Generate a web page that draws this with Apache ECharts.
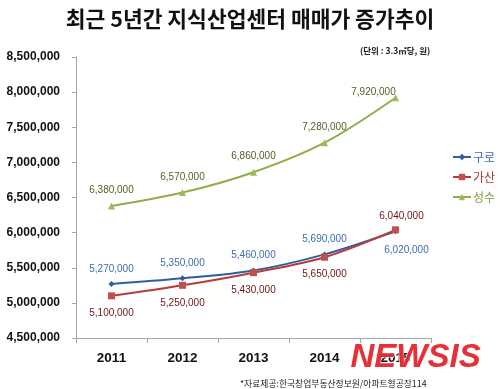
<!DOCTYPE html>
<html><head><meta charset="utf-8">
<script src="https://cdn.jsdelivr.net/npm/echarts@6/dist/echarts.min.js"></script>
<style>html,body{margin:0;padding:0;background:#fff}#c{width:500px;height:389px}</style>
</head><body><div id="c"></div>
<script>
const years = ['2011','2012','2013','2014','2015'];
const guro = [5270000, 5350000, 5460000, 5690000, 6020000];
const gasan = [5100000, 5250000, 5430000, 5650000, 6040000];
const seongsu = [6380000, 6570000, 6860000, 7280000, 7920000];
const seriesNames = ['구로', '가산', '성수'];
const yMin = 4500000, yMax = 8500000, yStep = 500000;

const fmt = v => v.toLocaleString('en-US');
const F = '"Liberation Sans", Arial, sans-serif';
const K = '"Noto Sans CJK KR", sans-serif';

function mkData(vals, specials) {
  return vals.map((v, i) => specials[i] ? { value: v, label: specials[i] } : v);
}

const chart = echarts.init(document.getElementById('c'));
chart.setOption({
  animation: false,
  title: [{
    text: '최근 5년간 지식산업센터 매매가 증가추이',
    left: 'center', top: 3,
    textStyle: { fontFamily: K, fontSize: 21.5, fontWeight: 'bold', color: '#111' }
  }, {
    text: '(단위 : 3.3㎡당, 원)',
    left: 355, top: 42,
    textStyle: { fontFamily: K, fontSize: 8.5, fontWeight: 'bold', color: '#222' }
  }, {
    text: '*자료제공:한국창업부동산정보원/아파트형공장114',
    left: 235, top: 374,
    textStyle: { fontFamily: K, fontSize: 8.8, fontWeight: 'normal', color: '#222' }
  }],
  legend: {
    orient: 'vertical', left: 447, top: 146, itemGap: 8,
    itemWidth: 18, itemHeight: 8,
    textStyle: { fontFamily: K, fontSize: 12, padding: [0,0,0,-3] },
    data: [
      { name: seriesNames[0], textStyle: { color: '#3a6db0' } },
      { name: seriesNames[1], textStyle: { color: '#a23a3a' } },
      { name: seriesNames[2], textStyle: { color: '#7f9a48' } }
    ]
  },
  grid: { left: 76, right: 69, top: 57, bottom: 51 },
  xAxis: {
    type: 'category', data: years, boundaryGap: true,
    axisLine: { lineStyle: { color: '#a6a6a6' } },
    axisTick: { show: true, length: 5, lineStyle: { color: '#a6a6a6' } },
    axisLabel: { fontFamily: F, fontSize: 13.5, fontWeight: 'bold', color: '#111', margin: 13 }
  },
  yAxis: {
    type: 'value', min: yMin, max: yMax, interval: yStep,
    axisLine: { show: true, lineStyle: { color: '#a6a6a6' } },
    axisTick: { show: true, length: 4, lineStyle: { color: '#a6a6a6' } },
    splitLine: { show: false },
    axisLabel: { fontFamily: F, fontSize: 12, fontWeight: 'bold', color: '#111', margin: 16,
      formatter: v => fmt(v) }
  },
  series: [{
    name: seriesNames[0], type: 'line', smooth: 0.35, data: mkData(guro, {4: { position: 'bottom', offset: [11, 6] }}),
    symbol: 'diamond', symbolSize: 6,
    lineStyle: { color: '#2f5f9e', width: 2 }, itemStyle: { color: '#2f5f9e' },
    label: { show: true, position: 'top', offset: [0, -2], formatter: p => fmt(p.value),
      fontFamily: F, fontSize: 10, color: '#3a6db0' }
  }, {
    name: seriesNames[1], type: 'line', smooth: 0.35, data: mkData(gasan, {4: { position: 'top', offset: [6, 0], color: '#6e1414' }}),
    symbol: 'rect', symbolSize: 7,
    lineStyle: { color: '#b83b38', width: 2 }, itemStyle: { color: '#c0504d' },
    label: { show: true, position: 'bottom', offset: [0, 4], formatter: p => fmt(p.value),
      fontFamily: F, fontSize: 10, color: '#6e1414' }
  }, {
    name: seriesNames[2], type: 'line', smooth: 0.35, data: mkData(seongsu, {4: { position: 'top', offset: [-22, 8] }}),
    symbol: 'triangle', symbolSize: 7,
    lineStyle: { color: '#8fae4a', width: 2 }, itemStyle: { color: '#9bbb59' },
    label: { show: true, position: 'top', offset: [0, -2], formatter: p => fmt(p.value),
      fontFamily: F, fontSize: 10, color: '#4f6228' }
  }],
  graphic: [{
    type: 'text', left: 350, top: 341, z: 100,
    style: { text: 'NEWSIS', fontFamily: F, fontSize: 33, fontWeight: 900, fontStyle: 'italic',
      fill: '#e8242a', stroke: '#ffffff', lineWidth: 1, opacity: 0.95 }
  }]
});
</script></body></html>
